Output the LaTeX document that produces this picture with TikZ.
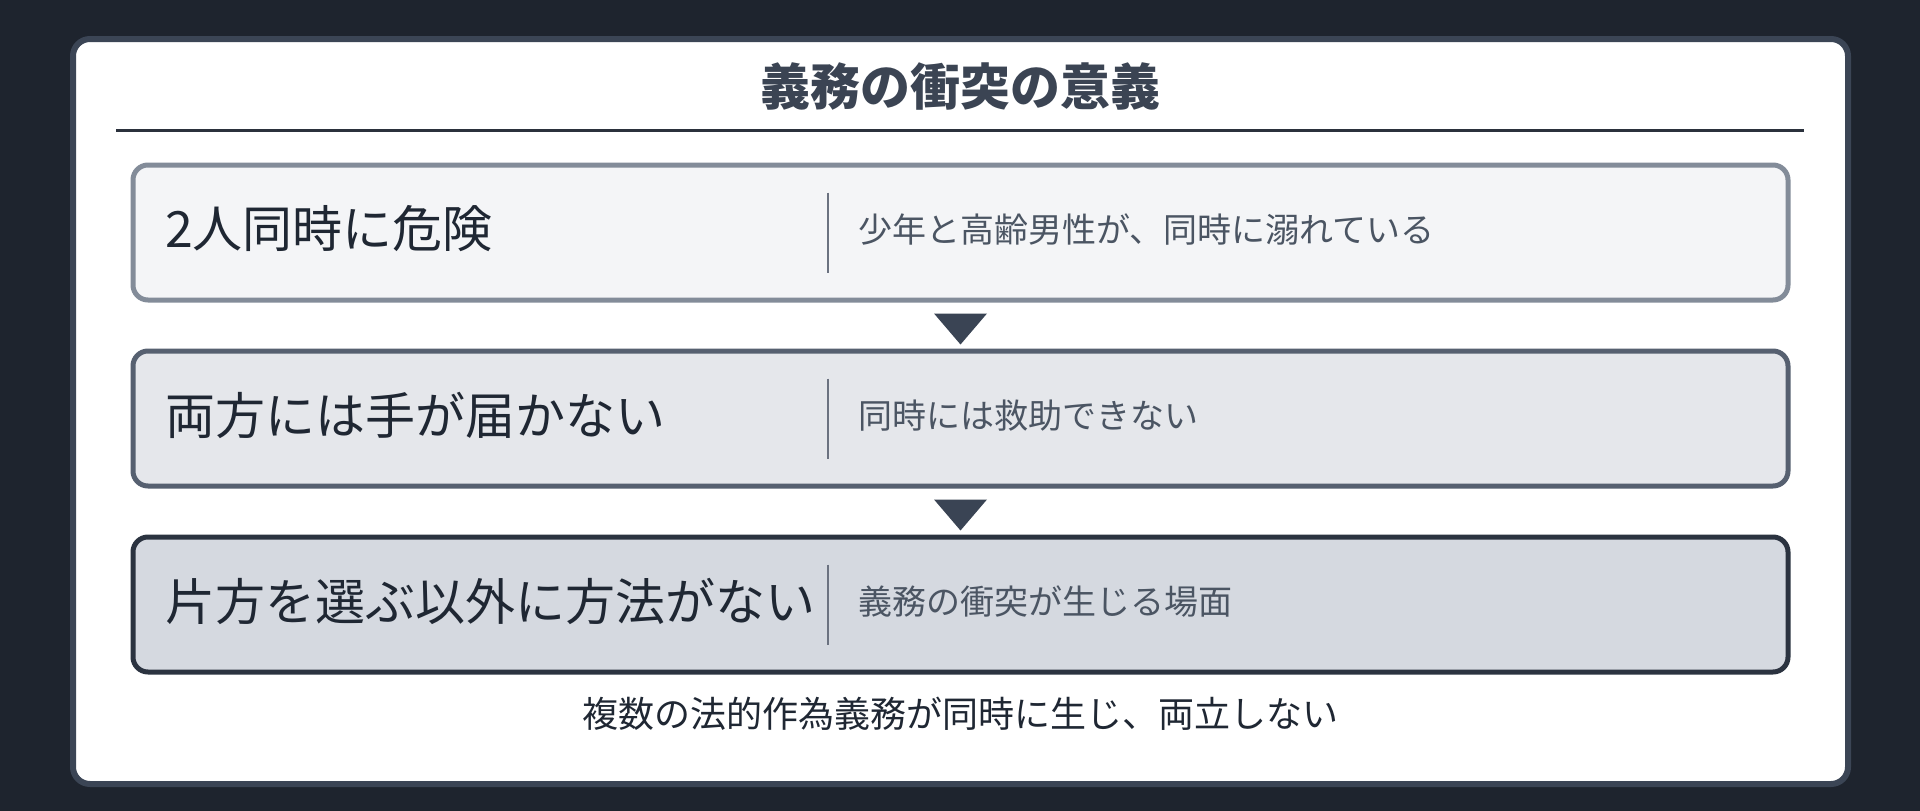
\documentclass[tikz,border=0pt]{standalone}
\usepackage{fontspec}
\setmainfont{Noto Sans CJK JP}
\usepackage{tikz}

\definecolor{bgdark}{HTML}{1E242E}
\definecolor{cardline}{HTML}{3B4555}
\definecolor{ruleline}{HTML}{2B313C}
\definecolor{fillA}{HTML}{F4F5F7}
\definecolor{lineA}{HTML}{838C99}
\definecolor{fillB}{HTML}{E5E7EB}
\definecolor{lineB}{HTML}{566070}
\definecolor{fillC}{HTML}{D5D9E0}
\definecolor{lineC}{HTML}{2B3340}
\definecolor{tri}{HTML}{3A4454}
\definecolor{titlecol}{HTML}{3B4453}
\definecolor{headcol}{HTML}{1F2733}
\definecolor{notecol}{HTML}{4B5563}
\definecolor{divcol}{HTML}{6B7280}

\begin{document}
\begin{tikzpicture}[x=1pt,y=-1pt]
        \useasboundingbox (0,0) rectangle (1920,811);
        \fill[bgdark] (0,0) rectangle (1920,811);
        \draw[cardline, fill=white, line width=6pt, rounded corners=17pt] (73,39) rectangle (1848,784);

        \node[text=titlecol, font=\fontsize{50}{60}\selectfont\bfseries] (0) at (960,86) {義務の衝突の意義};
        \draw[ruleline, line width=2.5pt] (116,130.5) -- (1804,130.5);

        \begin{scope}[every node/.style={rounded corners=15pt, line width=5pt, minimum width=1655pt, minimum height=135pt, inner sep=0pt}]
            \node[draw=lineA, fill=fillA] (1) at (960.5,232.5) {};
            \node[draw=lineB, fill=fillB] (2) at (960.5,418.5) {};
            \node[draw=lineC, fill=fillC] (3) at (960.5,604.5) {};
        \end{scope}

        \begin{scope}[every node/.style={anchor=west, inner sep=0pt, text=headcol, font=\fontsize{50}{60}\selectfont}]
            \node (4) at (165,229) {2人同時に危険};
            \node (5) at (165,415) {両方には手が届かない};
            \node (6) at (165,601) {片方を選ぶ以外に方法がない};
        \end{scope}

        \begin{scope}[every node/.style={anchor=west, inner sep=0pt, text=notecol, font=\fontsize{34}{40}\selectfont}]
            \node (7) at (858,230) {少年と高齢男性が、同時に溺れている};
            \node (8) at (858,416) {同時には救助できない};
            \node (9) at (858,602) {義務の衝突が生じる場面};
        \end{scope}

        \begin{scope}[divcol, line width=2.5pt]
            \draw (828,192.5) -- (828,272.5);
            \draw (828,378.5) -- (828,458.5);
            \draw (828,564.5) -- (828,644.5);
        \end{scope}

        \fill[tri] (1.south) ++(-26.5,11) -- ++(53,0) -- ++(-26.5,31) -- cycle;
        \fill[tri] (2.south) ++(-26.5,11) -- ++(53,0) -- ++(-26.5,31) -- cycle;

        \node[text=headcol, font=\fontsize{36}{44}\selectfont] (10) at (960,714) {複数の法的作為義務が同時に生じ、両立しない};
    \end{tikzpicture}
\end{document}
